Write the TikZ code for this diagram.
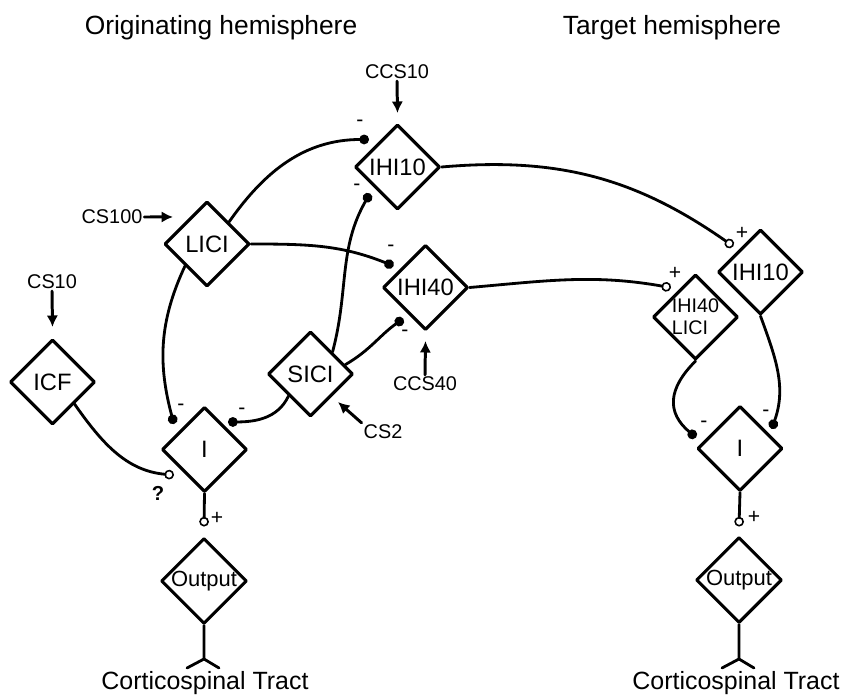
\documentclass[tikz,border=0pt]{standalone}
\usepackage{fontspec}
\setmainfont{Liberation Sans}
\usetikzlibrary{shapes.geometric,arrows.meta}

\begin{document}
\begin{tikzpicture}[x=0.02cm, y=0.02cm, line join=round, line cap=round,
	gate/.style={draw, diamond, aspect=1, minimum width=1.7cm, minimum height=1.7cm, inner sep=0pt, line width=1.8pt, font=\fontsize{13.5}{15}\selectfont},
	stim/.style={font=\fontsize{11.3}{13}\selectfont, inner sep=1pt},
	sgn/.style={font=\fontsize{12}{13}\selectfont, inner sep=0pt},
	hdr/.style={font=\fontsize{15}{17}\selectfont, inner sep=0pt},
	inh/.style={line width=1.6pt, -{Circle[length=5.5pt]}},
	exc/.style={line width=1.6pt, -{Circle[open, length=5.5pt, line width=0.9pt]}},
	push/.style={line width=1.7pt, -{Latex[length=6.5pt, width=6.5pt]}}]
		\useasboundingbox (0,0) rectangle (842,-696);
		\node[hdr] (hdrA) at (221,-28) {Originating hemisphere};
		\node[hdr] (hdrB) at (672,-28) {Target hemisphere};

		\node[gate] (ihiA) at (397.5,-167) {IHI10};
		\node[gate] (lici) at (207,-244) {LICI};
		\node[gate] (ihiB) at (425.5,-287.5) {IHI40};
		\node[gate] (sici) at (310.5,-374) {SICI};
		\node[gate] (icf) at (52.5,-382) {ICF};
		\node[gate] (iA) at (204.5,-449.5) {I};
		\node[gate, font=\fontsize{12.5}{14}\selectfont] (outA) at (204,-581) {Output};
		\node[gate] (ihiC) at (760.5,-272) {IHI10};
		\node[gate, align=left, font=\fontsize{11.2}{12.5}\selectfont] (ihiD) at (695.5,-317) {IHI40\\LICI};
		\node[gate] (iB) at (740,-448.5) {I};
		\node[gate, font=\fontsize{12.5}{14}\selectfont] (outB) at (739,-580) {Output};

		\node[stim] (ccs10) at (397,-72) {CCS10};
		\node[stim] (cs100) at (112,-217) {CS100};
		\node[stim] (cs10) at (52,-282) {CS10};
		\node[stim] (ccs40) at (425,-384) {CCS40};
		\node[stim] (cs2) at (383,-432) {CS2};
		\draw[push] (ccs10.south) -- ([shift={(0,10)}]ihiA.north);
		\draw[push] (cs100.east) -- ([shift={(-12,5)}]lici.north west);
		\draw[push] (cs10.south) -- ([shift={(0,11)}]icf.north);
		\draw[push] (ccs40.north) -- ([shift={(0,-9.5)}]ihiB.south);
		\draw[push] (cs2.north west) -- ([shift={(5.5,-6)}]sici.south east);

		\draw[inh] (lici.north east) to[out=55,in=180] ([shift={(-6.5,5.5)}]ihiA.north west);
		\draw[inh] (lici.east) to[out=0,in=158] ([shift={(-10,-0.5)}]ihiB.north west);
		\draw[inh] (lici.south west) to[out=245,in=105] ([shift={(-8.5,3.5)}]iA.north west);
		\draw[inh] (sici.north east) to[out=75,in=240] ([shift={(-5.5,-4.5)}]ihiA.south west);
		\draw[inh] (sici.15) to[out=30,in=215] ([shift={(-0.2,-9.2)}]ihiB.south west);
		\draw[inh] (sici.south west) to[out=245,in=0] ([shift={(1.5,5.5)}]iA.north east);
		\draw[exc] (icf.south east) to[out=-55,in=175] ([shift={(-8.5,-3.5)}]iA.south west);
		\draw[exc] (iA.south) -- ([shift={(0,10)}]outA.north);
		\draw[exc] (ihiA.east) to[out=5,in=145] ([shift={(-5.2,3.7)}]ihiC.north west);
		\draw[exc] (ihiB.east) to[out=5,in=170] ([shift={(-2.5,7.3)}]ihiD.north west);
		\draw[inh] (ihiD.south) to[out=225,in=140,looseness=1.3] ([shift={(-22,-11)}]iB.north west);
		\draw[inh] (ihiC.south) to[out=-70,in=70] ([shift={(9.6,-2.3)}]iB.north east);
		\draw[exc] (iB.south) -- ([shift={(0,9)}]outB.north);

		\coordinate (forkA) at (204,-659);
		\coordinate (legAl) at (187,-668);
		\coordinate (legAr) at (219,-668);
		\coordinate (forkB) at (739,-659);
		\coordinate (legBl) at (722,-668);
		\coordinate (legBr) at (754,-668);
		\draw[line width=1.6pt] (outA.south) -- (forkA) -- (legAl);
		\draw[line width=1.6pt] (forkA) -- (legAr);
		\draw[line width=1.6pt] (outB.south) -- (forkB) -- (legBl);
		\draw[line width=1.6pt] (forkB) -- (legBr);
		\node[font=\fontsize{14.2}{16}\selectfont] (tractA) at (205,-683) {Corticospinal Tract};
		\node[font=\fontsize{14.2}{16}\selectfont] (tractB) at (736,-683) {Corticospinal Tract};

		\node[sgn] (sgA) at (360,-123) {-};
		\node[sgn] (sgB) at (357,-187) {-};
		\node[sgn] (sgC) at (391,-248) {-};
		\node[sgn] (sgD) at (405,-333) {-};
		\node[sgn] (sgE) at (181,-407) {-};
		\node[sgn] (sgF) at (242,-411) {-};
		\node[sgn, font=\fontsize{11.5}{12}\selectfont\bfseries] (sgG) at (158,-493) {?};
		\node[sgn] (sgH) at (217,-518) {+};
		\node[sgn] (sgI) at (742,-233) {+};
		\node[sgn] (sgJ) at (675,-273) {+};
		\node[sgn] (sgK) at (704,-424) {-};
		\node[sgn] (sgL) at (766,-413) {-};
		\node[sgn] (sgM) at (754,-517) {+};
	\end{tikzpicture}
\end{document}
